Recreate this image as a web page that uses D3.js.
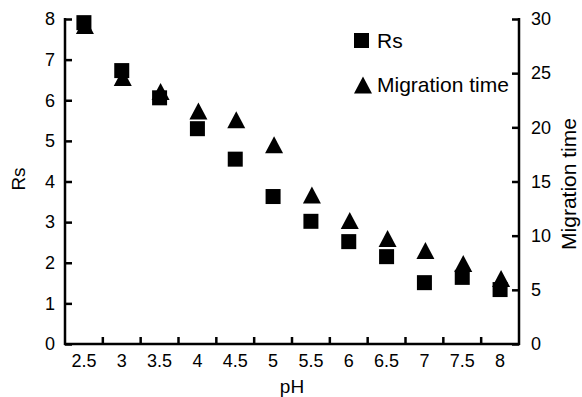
<!DOCTYPE html>
<html>
<head>
<meta charset="utf-8">
<script src="https://cdn.jsdelivr.net/npm/d3@7"></script>
<style>
  html, body { margin: 0; padding: 0; background: #fff; }
  svg { display: block; font-family: "Liberation Sans", Arial, sans-serif; }
</style>
</head>
<body>
<svg id="chart" width="582" height="397"></svg>
<script>
const categories = ["2.5", "3", "3.5", "4", "4.5", "5", "5.5", "6", "6.5", "7", "7.5", "8"];
const rsValues = [7.91, 6.73, 6.06, 5.30, 4.55, 3.63, 3.02, 2.52, 2.15, 1.51, 1.64, 1.34];
const migrationValues = [29.4, 24.6, 23.3, 21.5, 20.7, 18.4, 13.75, 11.4, 9.74, 8.63, 7.43, 6.05];
const leftTicks = [0, 1, 2, 3, 4, 5, 6, 7, 8];
const rightTicks = [0, 5, 10, 15, 20, 25, 30];
const seriesNames = ["Rs", "Migration time"];

const svg = d3.select("#chart");
const m = { left: 65, right: 519, top: 19, bottom: 344 };

const x = d3.scaleBand().domain(categories).range([m.left, m.right]).padding(0);
const yL = d3.scaleLinear().domain([0, 8]).range([m.bottom, m.top]);
const yR = d3.scaleLinear().domain([0, 30]).range([m.bottom, m.top]);

const tickLen = 7, sw = 2.5;

const gL = svg.append("g").attr("transform", `translate(${m.left},0)`)
  .call(d3.axisLeft(yL).tickValues(leftTicks).tickSizeInner(-tickLen).tickSizeOuter(0).tickPadding(10));
const gR = svg.append("g").attr("transform", `translate(${m.right},0)`)
  .call(d3.axisRight(yR).tickValues(rightTicks).tickSizeInner(-tickLen).tickSizeOuter(0).tickPadding(12));
const gB = svg.append("g").attr("transform", `translate(0,${m.bottom})`)
  .call(d3.axisBottom(x).tickSize(0).tickPadding(10));

[gL, gR, gB].forEach(g => {
  g.select(".domain").attr("stroke", "#000").attr("stroke-width", sw);
  g.selectAll(".tick line").attr("stroke", "#000").attr("stroke-width", sw);
  g.selectAll(".tick text").attr("fill", "#000").attr("font-size", 18)
    .attr("font-family", "Liberation Sans, Arial, sans-serif");
});
gL.select(".domain").attr("d", `M0,${m.bottom + 1}V${m.top - 1}`);
gR.select(".domain").attr("d", `M0,${m.bottom + 1}V${m.top - 1}`);
gB.select(".domain").attr("d", `M${m.left - 1},0H${m.right + 1}`);
gB.selectAll(".tick text").attr("dy", "0.71em");

// boundary ticks between categories (pointing up)
const boundaries = categories.slice(1).map(c => x(c));
svg.append("g").selectAll("line").data(boundaries).join("line")
  .attr("x1", d => d).attr("x2", d => d)
  .attr("y1", m.bottom).attr("y2", m.bottom - tickLen)
  .attr("stroke", "#000").attr("stroke-width", sw);

const cx = c => x(c) + x.bandwidth() / 2;
const triPath = (px, py, hw, h) => `M${px - hw},${py + h / 2}L${px},${py - h / 2}L${px + hw},${py + h / 2}Z`;

svg.append("g").selectAll("path").data(categories).join("path")
  .attr("d", (c, i) => triPath(cx(c) + 1, yR(migrationValues[i]), 9, 17))
  .attr("fill", "#000");

const sq = 15;
svg.append("g").selectAll("rect").data(categories).join("rect")
  .attr("x", c => cx(c) - sq / 2)
  .attr("y", (c, i) => yL(rsValues[i]) - sq / 2)
  .attr("width", sq).attr("height", sq)
  .attr("fill", "#000");

// Legend
const lg = svg.append("g");
lg.append("rect").attr("x", 354).attr("y", 33).attr("width", sq).attr("height", sq).attr("fill", "#000");
lg.append("path").attr("d", triPath(363, 85, 9, 17)).attr("fill", "#000");
lg.append("text").attr("x", 377).attr("y", 48).attr("font-size", 21).text(seriesNames[0]);
lg.append("text").attr("x", 377).attr("y", 92).attr("font-size", 21).text(seriesNames[1]);

// Axis titles
svg.append("text").attr("transform", "translate(25,179) rotate(-90)")
  .attr("text-anchor", "middle").attr("font-size", 19).text("Rs");
svg.append("text").attr("x", (m.left + m.right) / 2).attr("y", 393)
  .attr("text-anchor", "middle").attr("font-size", 19).text("pH");
svg.append("text").attr("transform", "translate(576,184) rotate(-90)")
  .attr("text-anchor", "middle").attr("font-size", 21).text("Migration time");
</script>
</body>
</html>
